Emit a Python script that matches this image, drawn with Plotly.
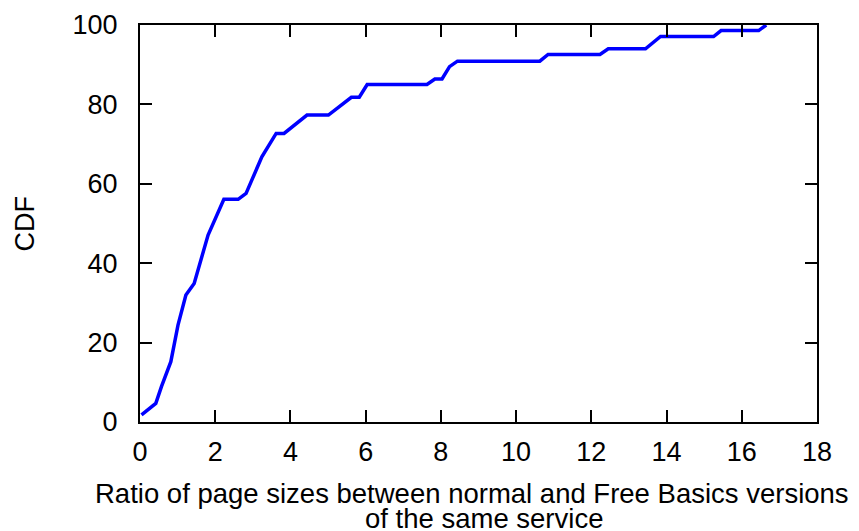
import plotly.graph_objects as go

# CDF of page size ratio
ratio = [0.04, 0.42, 0.57, 0.82, 1.01, 1.22, 1.44, 1.81, 2.23, 2.61, 2.82, 3.24,
         3.62, 3.83, 4.44, 5.01, 5.62, 5.83, 6.04, 7.63, 7.84, 8.03, 8.23, 8.44,
         10.63, 10.85, 12.23, 12.45, 13.44, 13.84, 15.25, 15.45, 16.45, 16.65]
cdf = [1.8, 4.7, 8.9, 15.2, 24.4, 32.0, 34.9, 47.1, 56.1, 56.1, 57.6, 66.8,
       72.7, 72.7, 77.3, 77.3, 81.8, 81.8, 85.0, 85.0, 86.4, 86.4, 89.5, 90.9,
       90.9, 92.6, 92.6, 94.0, 94.0, 97.1, 97.1, 98.6, 98.6, 100.0]

x_ticks = list(range(0, 19, 2))
y_ticks = list(range(0, 101, 20))

fig = go.Figure()
fig.add_trace(go.Scatter(x=ratio, y=cdf, mode='lines',
                         line=dict(color='#0000ff', width=3.5), showlegend=False))

axis_style = dict(showgrid=False, zeroline=False, showline=True, linecolor='black',
                  linewidth=2, mirror='ticks', ticks='inside', ticklen=12,
                  tickwidth=1.5, tickcolor='black', tickfont=dict(size=27),
                  automargin=False)

fig.update_xaxes(range=[0, 18], tickvals=x_ticks, ticklabelstandoff=5, **axis_style)
fig.update_yaxes(range=[0, 100], tickvals=y_ticks, ticklabelstandoff=15, **axis_style)

# axis titles as annotations, gnuplot puts the two x title lines close together
fig.add_annotation(text='Ratio of page sizes between normal and Free Basics versions',
                   xref='paper', yref='paper', x=0.4904, y=0, xanchor='center', yanchor='middle',
                   yshift=-71, showarrow=False, font=dict(size=27.5))
fig.add_annotation(text='of the same service',
                   xref='paper', yref='paper', x=0.5082, y=0, xanchor='center', yanchor='middle',
                   yshift=-96, showarrow=False, font=dict(size=27.5))
fig.add_annotation(text='CDF', textangle=-90,
                   xref='paper', yref='paper', x=-0.1713, y=0.5, xanchor='center', yanchor='middle',
                   showarrow=False, font=dict(size=27))

# the page body has an 8px margin, so the figure is 8px smaller than the window
fig.update_layout(width=851, height=523, plot_bgcolor='white', paper_bgcolor='white',
                  margin=dict(l=132, r=42, t=17, b=109),
                  font=dict(family='Liberation Sans, Arial, sans-serif', size=27, color='black'))

fig.write_html("out.html")
